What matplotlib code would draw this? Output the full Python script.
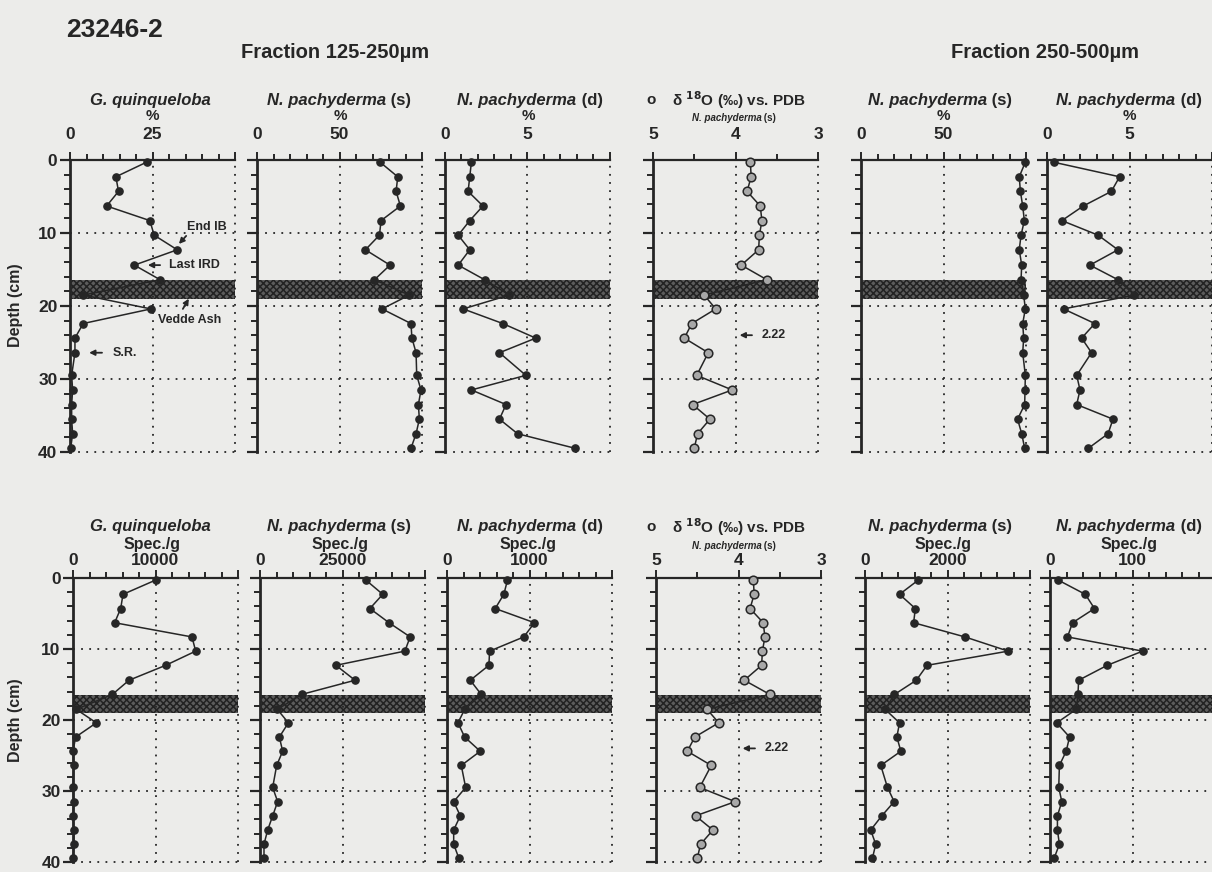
import numpy as np
import matplotlib.pyplot as plt
from matplotlib.ticker import MultipleLocator

plt.rcParams['font.family'] = ['Liberation Sans', 'DejaVu Sans']
plt.rcParams['font.weight'] = 'bold'
plt.rcParams['mathtext.default'] = 'bf'
plt.rcParams['hatch.color'] = '#222222'
plt.rcParams['hatch.linewidth'] = 1.1

# Core 23246-2, sample depths (cm)
depth = [0.3, 2.3, 4.3, 6.3, 8.3, 10.3, 12.3, 14.4, 16.4, 18.5,
         20.4, 22.4, 24.4, 26.4, 29.5, 31.5, 33.5, 35.5, 37.5, 39.5]

# 125-250 um fraction, percentages
gq_pct = [23.2, 13.9, 14.7, 11.1, 24.2, 25.5, 32.5, 19.5, 27.3, 4.0,
          24.5, 4.0, 1.5, 1.5, 0.5, 0.8, 0.5, 0.5, 0.8, 0.2]
nps_pct = [74.6, 85.3, 84.3, 86.9, 75.2, 74.2, 65.7, 80.6, 71.2, 92.3,
           75.8, 93.3, 93.9, 96.4, 96.8, 99.4, 97.8, 98.4, 96.4, 93.3]
npd_pct = [1.6, 1.5, 1.4, 2.3, 1.5, 0.8, 1.5, 0.8, 2.4, 3.9,
           1.1, 3.5, 5.5, 3.3, 4.9, 1.6, 3.7, 3.3, 4.4, 7.9]

# stable isotopes, N. pachyderma (s)
d18o = [3.82, 3.81, 3.86, 3.70, 3.68, 3.71, 3.72, 3.93, 3.62, 4.38,
        4.24, 4.53, 4.62, 4.33, 4.47, 4.04, 4.52, 4.31, 4.46, 4.50]

# 250-500 um fraction, percentages
nps_pct_coarse = [99.6, 95.9, 96.6, 98.0, 99.0, 97.0, 95.9, 97.4, 97.0, 98.6,
                  99.6, 98.0, 98.6, 98.0, 99.6, 99.4, 99.2, 94.9, 97.4, 99.2]
npd_pct_coarse = [0.4, 4.4, 3.9, 2.2, 0.9, 3.1, 4.3, 2.6, 4.3, 5.3,
                  1.0, 2.9, 2.1, 2.7, 1.8, 2.0, 1.8, 4.0, 3.7, 2.5]

# absolute abundances (specimens per gram)
gq_spec = [10000, 6060, 5780, 5050, 14420, 14870, 11230, 6790, 4770, 400,
           2830, 320, 0, 100, 0, 100, 0, 100, 100, 0]
nps_spec = [32100, 37200, 33300, 39100, 45500, 43900, 23000, 28800, 12600, 5250,
            8600, 5860, 6870, 5050, 3840, 5350, 3840, 2320, 1210, 1210]
npd_spec = [733, 689, 584, 1060, 931, 516, 508, 282, 415, 214,
            133, 214, 403, 173, 226, 81, 161, 81, 81, 145]
nps_spec_coarse = [1290, 837, 1220, 1179, 2423, 3471, 1504, 1244, 715, 488,
                   837, 772, 870, 382, 545, 707, 407, 138, 260, 179]
npd_spec_coarse = [10, 42.8, 53.9, 27.3, 21.2, 112.2, 69.4, 34.7, 33.9, 31.8,
                   8.2, 23.7, 19.6, 11.4, 10.6, 14.3, 9.0, 9.0, 11.4, 4.9]

ash_top, ash_base = 16.5, 19.0   # Vedde Ash layer

W, H = 1212, 872
BG = '#ececea'
INK = '#262626'
fig = plt.figure(figsize=(W / 100, H / 100), dpi=100, facecolor=BG)
renderer = fig.canvas.get_renderer()


def ftext(x, y, s, **kw):
    kw.setdefault('ha', 'center')
    kw.setdefault('va', 'center')
    kw.setdefault('color', INK)
    return fig.text(x / W, 1 - y / H, s, **kw)


def panel(x0, y0, y1, xlim, major, labels, minor, values,
          open_marker=False, ylabels=False, ticky=136):
    ax = fig.add_axes([x0 / W, 1 - y1 / H, 165 / W, (y1 - y0) / H])
    ax.set_facecolor('none')
    ax.set_xlim(*xlim)
    ax.set_ylim(40, 0)
    ax.axhspan(ash_top, ash_base, facecolor='#5c5c5c', edgecolor='#222222',
               hatch='xxxxx', lw=0, zorder=1)
    # dotted grid at the major depths and values
    for v in major[1:]:
        ax.axvline(v, color=INK, ls=(0, (1, 3.5)), lw=1.3, clip_on=False, zorder=2)
    for d in (10, 20, 30, 40):
        ax.axhline(d, color=INK, ls=(0, (1, 3.5)), lw=1.3, clip_on=False, zorder=2)
    if open_marker:
        ax.plot(values, depth, color=INK, lw=1.1, marker='o', ms=6.2,
                mfc='#a8a8a8', mec=INK, mew=1.1, clip_on=False, zorder=3)
    else:
        ax.plot(values, depth, color=INK, lw=1.1, marker='o', ms=5.2,
                mfc=INK, mec=INK, clip_on=False, zorder=3)
    for s in ('right', 'bottom'):
        ax.spines[s].set_visible(False)
    ax.spines['left'].set_linewidth(2.0)
    ax.spines['top'].set_linewidth(1.6)
    ax.spines['left'].set_color(INK)
    ax.spines['top'].set_color(INK)
    ax.xaxis.tick_top()
    ax.set_xticks(major)
    ax.set_xticklabels(labels)
    ax.xaxis.set_minor_locator(MultipleLocator(minor))
    ax.set_yticks([0, 10, 20, 30, 40])
    ax.yaxis.set_minor_locator(MultipleLocator(2))
    ax.set_yticklabels(['0', '10', '20', '30', '40'] if ylabels else [])
    pad = (y0 - ticky) / 1.389 - 6 - 4.5
    ax.tick_params(axis='x', which='major', length=6, width=1.4, colors=INK,
                   labelsize=12.5, pad=pad)
    ax.tick_params(axis='x', which='minor', length=4, width=1.4, colors=INK)
    ax.tick_params(axis='y', which='major', length=7, width=1.6, colors=INK,
                   labelsize=12.5, pad=2)
    ax.tick_params(axis='y', which='minor', length=4, width=1.4, colors=INK)
    return ax


def species(xc, y, name, suffix=None, size=12):
    # italic genus/species with an upright suffix, centred on xc as one line
    t1 = ftext(0, y, name, ha='left', style='italic', fontsize=size)
    w1 = t1.get_window_extent(renderer).width
    w2 = 0
    if suffix is not None:
        t2 = ftext(0, y, ' ' + suffix, ha='left', fontsize=size)
        w2 = t2.get_window_extent(renderer).width
    start = xc - (w1 + w2) / 2
    t1.set_x(start / W)
    if suffix is not None:
        t2.set_x((start + w1) / W)


def isotope_header(x0, y, y2):
    ftext(x0, y, 'o', ha='left', fontsize=11)
    ftext(x0 + 26, y, 'δ $^{18}$O (‰) vs. PDB', ha='left', fontsize=11)
    species(x0 + 88, y2, 'N. pachyderma', '(s)', size=7)


# ---- top row: percentages ----
top0, top1 = 160, 452
a1 = panel(70, top0, top1, (0, 50), [0, 25, 50], ['0', '25', ''], 5, gq_pct,
           ylabels=True)
panel(257, top0, top1, (0, 100), [0, 50, 100], ['0', '50', ''], 10, nps_pct)
panel(445, top0, top1, (0, 10), [0, 5, 10], ['0', '5', ''], 1, npd_pct)
a4 = panel(653, top0, top1, (5, 3), [5, 4, 3], ['5', '4', '3'], 0.5, d18o,
           open_marker=True)
panel(861, top0, top1, (0, 100), [0, 50, 100], ['0', '50', ''], 10, nps_pct_coarse)
panel(1047, top0, top1, (0, 10), [0, 5, 10], ['0', '5', ''], 1, npd_pct_coarse)

# ---- bottom row: specimens per gram ----
bot0, bot1 = 578, 862
b1 = panel(73, bot0, bot1, (0, 20000), [0, 10000, 20000], ['0', '10000', ''], 2000,
           gq_spec, ylabels=True, ticky=562)
panel(260, bot0, bot1, (0, 50000), [0, 25000, 50000], ['0', '25000', ''], 5000,
      nps_spec, ticky=562)
panel(447, bot0, bot1, (0, 2000), [0, 1000, 2000], ['0', '1000', ''], 200,
      npd_spec, ticky=562)
b4 = panel(656, bot0, bot1, (5, 3), [5, 4, 3], ['5', '4', '3'], 0.5, d18o,
           open_marker=True, ticky=562)
panel(865, bot0, bot1, (0, 4000), [0, 2000, 4000], ['0', '2000', ''], 400,
      nps_spec_coarse, ticky=562)
panel(1050, bot0, bot1, (0, 200), [0, 100, 200], ['0', '100', ''], 20,
      npd_spec_coarse, ticky=562)

# ---- headings ----
ftext(66, 30, '23246-2', ha='left', fontsize=19)
ftext(335, 52, 'Fraction 125-250µm', fontsize=14.5)
ftext(1045, 52, 'Fraction 250-500µm', fontsize=14.5)

species(150, 100, 'G. quinqueloba')
ftext(152, 116, '%', fontsize=11)
species(339, 100, 'N. pachyderma', '(s)')
ftext(340, 116, '%', fontsize=11)
species(530, 100, 'N. pachyderma', '(d)')
ftext(528, 116, '%', fontsize=11)
isotope_header(646, 100, 118)
species(940, 100, 'N. pachyderma', '(s)')
ftext(943, 116, '%', fontsize=11)
species(1129, 100, 'N. pachyderma', '(d)')
ftext(1129, 116, '%', fontsize=11)

species(150, 526, 'G. quinqueloba')
ftext(152, 544, 'Spec./g', fontsize=11.5)
species(339, 526, 'N. pachyderma', '(s)')
ftext(340, 544, 'Spec./g', fontsize=11.5)
species(530, 526, 'N. pachyderma', '(d)')
ftext(528, 544, 'Spec./g', fontsize=11.5)
isotope_header(646, 527, 546)
species(940, 526, 'N. pachyderma', '(s)')
ftext(943, 544, 'Spec./g', fontsize=11.5)
species(1129, 526, 'N. pachyderma', '(d)')
ftext(1129, 544, 'Spec./g', fontsize=11.5)

ftext(16, 305, 'Depth (cm)', rotation=90, fontsize=11.5)
ftext(16, 720, 'Depth (cm)', rotation=90, fontsize=11.5)

# ---- event labels ----
arrow = dict(arrowstyle='-|>', color=INK, lw=1.3, mutation_scale=8,
             shrinkA=0, shrinkB=0)
a1.text(35.5, 9.2, 'End IB', fontsize=9, color=INK, va='center')
a1.annotate('', xy=(33.0, 11.5), xytext=(35.2, 10.4), arrowprops=arrow)
a1.annotate('', xy=(23.6, 14.4), xytext=(27.3, 14.4), arrowprops=arrow)
a1.text(30.0, 14.4, 'Last IRD', fontsize=9, color=INK, va='center')
a1.text(26.7, 21.9, 'Vedde Ash', fontsize=9, color=INK, va='center')
a1.annotate('', xy=(36.0, 19.0), xytext=(34.2, 20.4), arrowprops=arrow)
a1.annotate('', xy=(5.8, 26.4), xytext=(9.7, 26.4), arrowprops=arrow)
a1.text(13.0, 26.4, 'S.R.', fontsize=9, color=INK, va='center')

for ax in (a4, b4):
    ax.annotate('', xy=(3.95, 24.0), xytext=(3.80, 24.0), arrowprops=arrow)
    ax.text(3.68, 24.0, '2.22', fontsize=9, color=INK, va='center')

plt.savefig('out.png', dpi=100, facecolor=BG)
